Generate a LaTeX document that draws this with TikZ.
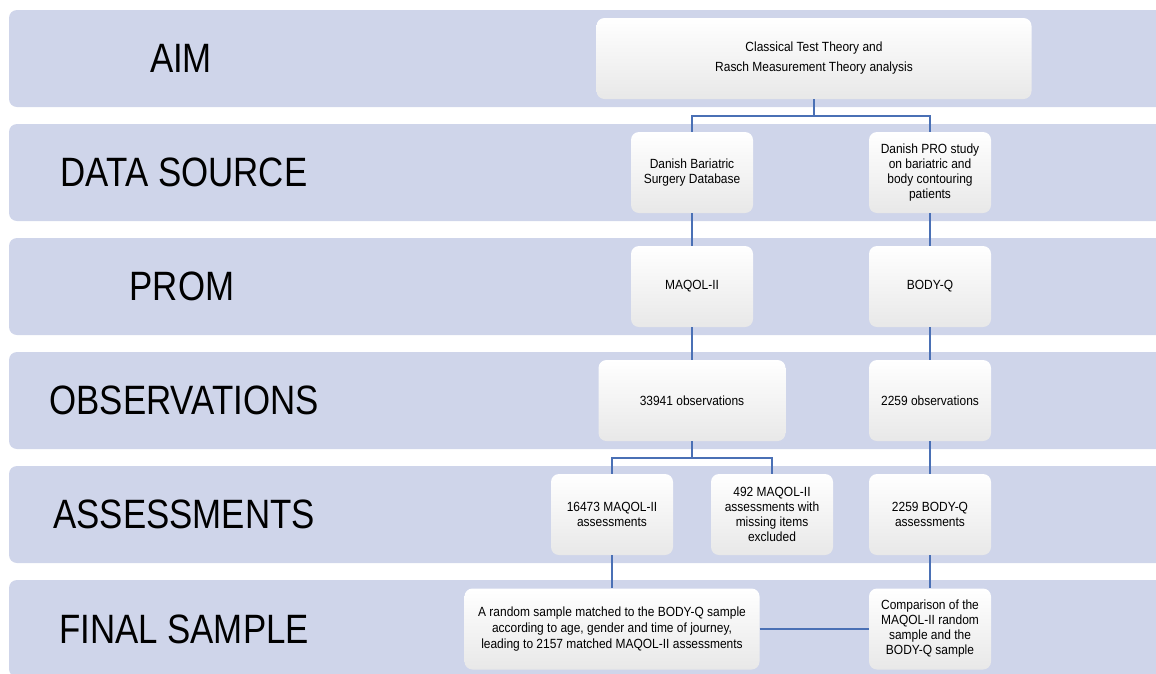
\documentclass[tikz,border=0pt]{standalone}
\usepackage{fontspec}
\setmainfont{Liberation Sans}
\newfontfamily\bandfont{Liberation Sans}[FakeStretch=0.85]
\newfontfamily\boxfont{Liberation Sans}[FakeStretch=0.9]
\usetikzlibrary{positioning}
\definecolor{bandblue}{RGB}{207,213,234}
\definecolor{lineblue}{RGB}{74,112,181}
\tikzset{>=stealth}

\begin{document}
\begin{tikzpicture}[x=1pt,y=-1pt,
  band/.style={fill=bandblue,rounded corners=8pt},
  lbl/.style={font=\bandfont\fontsize{41}{41}\selectfont},
  box/.style={rectangle,rounded corners=8pt,top color=white,bottom color=black!9,minimum height=81pt,align=center,inner sep=2pt,font=\boxfont\fontsize{13.3}{15}\selectfont},
  con/.style={draw=lineblue,line width=1.7pt}]
      \useasboundingbox (0,0) rectangle (1156,673);
      \clip (0,0) rectangle (1156,673);
      \fill[band] (9,10) rectangle (1175,107);
      \fill[band] (9,124) rectangle (1175,221);
      \fill[band] (9,238) rectangle (1175,335);
      \fill[band] (9,352) rectangle (1175,449);
      \fill[band] (9,466) rectangle (1175,563);
      \fill[band] (9,580) rectangle (1175,677);
      \node (laim) at (181,58.5)[lbl] {AIM};
      \node (lsrc) at (184,172.5)[lbl] {DATA SOURCE};
      \node (lprom) at (182,286.5)[lbl] {PROM};
      \node (lobs) at (184,400.5)[lbl] {OBSERVATIONS};
      \node (lass) at (184,514.5)[lbl] {ASSESSMENTS};
      \node (lfin) at (184,629.5)[lbl] {FINAL SAMPLE};
      \node (aim) at (814,58.5)[box,minimum width=435pt,font=\boxfont\fontsize{13.3}{20}\selectfont]
      {Classical Test Theory and\\Rasch Measurement Theory analysis};
      \node (dbsd) at (692,172.5)[box,minimum width=122pt] {Danish Bariatric\\Surgery Database};
      \node (pro) at (930,172.5)[box,minimum width=122pt] {Danish PRO study\\on bariatric and\\body contouring\\patients};
      \node (maqol) at (692,286.5)[box,minimum width=122pt] {MAQOL-II};
      \node (bodyq) at (930,286.5)[box,minimum width=122pt] {BODY-Q};
      \node (obsm) at (692,400.5)[box,minimum width=187pt] {33941 observations};
      \node (obsb) at (930,400.5)[box,minimum width=122pt] {2259 observations};
      \node (assm) at (612,514.5)[box,minimum width=122pt] {16473 MAQOL-II\\assessments};
      \node (assx) at (772,514.5)[box,minimum width=122pt] {492 MAQOL-II\\assessments with\\missing items\\excluded};
      \node (assb) at (930,514.5)[box,minimum width=122pt] {2259 BODY-Q\\assessments};
      \node (finm) at (612,629)[box,minimum width=295pt,font=\boxfont\fontsize{13.3}{16}\selectfont]
      {A random sample matched to the BODY-Q sample\\according to age, gender and time of journey,\\leading to 2157 matched MAQOL-II assessments};
      \node (finb) at (930,629)[box,minimum width=122pt] {Comparison of the\\MAQOL-II random\\sample and the\\BODY-Q sample};
        \draw [con] (aim.south) -- ++(0,17) coordinate (j1);
        \draw [con] (dbsd.north) |- (j1) -| (pro.north);
        \draw [con] (dbsd.south) -- (maqol.north);
        \draw [con] (pro.south) -- (bodyq.north);
        \draw [con] (maqol.south) -- (obsm.north);
        \draw [con] (bodyq.south) -- (obsb.north);
        \draw [con] (obsm.south) -- ++(0,17) coordinate (j2);
        \draw [con] (assm.north) |- (j2) -| (assx.north);
        \draw [con] (obsb.south) -- (assb.north);
        \draw [con] (assm.south) -- (finm.north);
        \draw [con] (assb.south) -- (finb.north);
        \draw [con] (finm.east) -- (finb.west);
\end{tikzpicture}
\end{document}
